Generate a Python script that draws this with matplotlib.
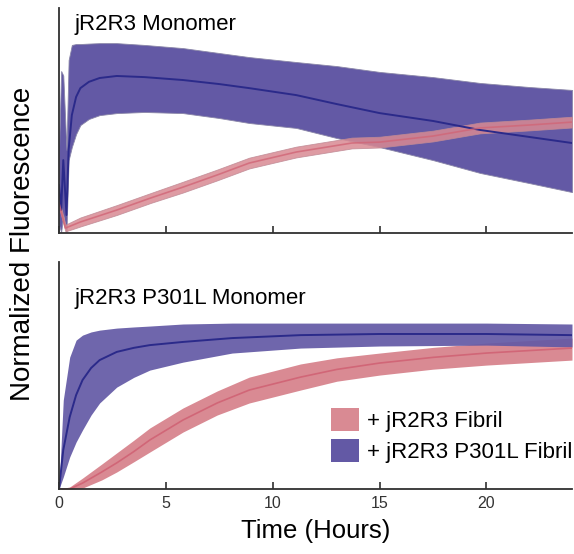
import matplotlib
matplotlib.use("Agg")
import matplotlib.pyplot as plt
from matplotlib.patches import Patch

plt.rcParams['font.family'] = ['Liberation Sans', 'DejaVu Sans']

# ── top panel: jR2R3 Monomer (normalized, 0..1) ──
top_blue_t = [0, 0.1, 0.2, 0.35, 0.45, 0.6, 0.8, 1.0, 1.4, 1.9, 2.7, 4.0, 5.8, 7.5, 8.9, 11.1, 13, 15, 17.5, 19.7, 22, 24]
top_blue_mean = [0.213, 0.102, 0.324, 0.08, 0.369, 0.524, 0.605, 0.644, 0.672, 0.689, 0.698, 0.693, 0.68, 0.662,
                 0.644, 0.613, 0.573, 0.533, 0.498, 0.458, 0.427, 0.40]
top_blue_hi = [0.369, 0.72, 0.70, 0.369, 0.769, 0.836, 0.84, 0.84, 0.842, 0.844, 0.844, 0.836, 0.822, 0.80,
               0.782, 0.76, 0.742, 0.716, 0.693, 0.667, 0.649, 0.636]
top_blue_lo = [0.036, 0.004, 0.08, 0.004, 0.324, 0.382, 0.44, 0.48, 0.507, 0.524, 0.533, 0.538, 0.533, 0.511,
               0.489, 0.467, 0.422, 0.382, 0.324, 0.267, 0.222, 0.182]

top_red_t = [0, 0.3, 1, 2.7, 4.3, 5.8, 7.4, 8.9, 11.1, 13.7, 15, 17.5, 19.7, 22, 24]
top_red_mean = [0.133, 0.022, 0.049, 0.102, 0.156, 0.204, 0.258, 0.311, 0.36, 0.40, 0.404, 0.431, 0.467, 0.48, 0.493]
top_red_hw = [0.02, 0.015, 0.02, 0.022, 0.022, 0.024, 0.024, 0.024, 0.024, 0.024, 0.024, 0.024, 0.024, 0.024, 0.024]

# ── bottom panel: jR2R3 P301L Monomer ──
bot_blue_t = [0, 0.2, 0.5, 0.8, 1.1, 1.5, 1.9, 2.7, 3.5, 4.25, 5.8, 8.1, 11.3, 15, 20, 24]
bot_blue_mean = [0, 0.172, 0.317, 0.414, 0.48, 0.533, 0.568, 0.604, 0.622, 0.634, 0.648, 0.665, 0.678, 0.683, 0.683, 0.678]
bot_blue_hi = [0, 0.392, 0.581, 0.656, 0.678, 0.692, 0.70, 0.709, 0.714, 0.718, 0.727, 0.731, 0.731, 0.731, 0.731, 0.727]
bot_blue_lo = [0, 0.053, 0.141, 0.207, 0.26, 0.326, 0.379, 0.449, 0.492, 0.524, 0.559, 0.599, 0.621, 0.63, 0.634, 0.626]

bot_red_t = [0, 0.5, 1.1, 2.0, 2.7, 3.5, 4.25, 5.8, 7.4, 8.9, 11.3, 13, 15, 17.5, 20, 24]
bot_red_mean = [0, 0.0, 0.026, 0.075, 0.115, 0.165, 0.216, 0.304, 0.379, 0.436, 0.493, 0.527, 0.555, 0.58, 0.599, 0.621]
bot_red_hi = [0, 0.009, 0.048, 0.11, 0.159, 0.215, 0.269, 0.357, 0.432, 0.493, 0.551, 0.578, 0.599, 0.624, 0.643, 0.665]
bot_red_lo = [0, 0.0, 0.004, 0.04, 0.075, 0.12, 0.163, 0.251, 0.326, 0.379, 0.436, 0.475, 0.502, 0.528, 0.546, 0.568]

xticks = [0, 5, 10, 15, 20]
labels = ["+ jR2R3 Fibril", "+ jR2R3 P301L Fibril"]

BLUE_FILL = "#6359a5"
BLUE_LINE = "#2b2a8a"
RED_FILL = "#d98a93"
RED_LINE = "#d16677"
AX_COL = "#303030"

fig = plt.figure(figsize=(5.74, 5.54), dpi=100)
ax1 = fig.add_axes([0.1028, 0.5794, 0.8937, 0.4061])
ax2 = fig.add_axes([0.1028, 0.1173, 0.8937, 0.4097])

# top
ax1.fill_between(top_blue_t, top_blue_lo, top_blue_hi, color=BLUE_FILL, lw=0.6, edgecolor="#8a86a8")
ax1.plot(top_blue_t, top_blue_mean, color=BLUE_LINE, lw=1.4)
r_lo = [m - h for m, h in zip(top_red_mean, top_red_hw)]
r_hi = [m + h for m, h in zip(top_red_mean, top_red_hw)]
ax1.fill_between(top_red_t, r_lo, r_hi, color=RED_FILL, alpha=0.85, lw=0.6, edgecolor="#c08a95")
ax1.plot(top_red_t, top_red_mean, color=RED_LINE, lw=1.2, alpha=0.8)
ax1.text(0.03, 0.975, "jR2R3 Monomer", transform=ax1.transAxes, fontsize=16, va="top", ha="left")

# bottom
ax2.fill_between(bot_red_t, bot_red_lo, bot_red_hi, color=RED_FILL, lw=0)
ax2.plot(bot_red_t, bot_red_mean, color=RED_LINE, lw=1.2)
ax2.fill_between(bot_blue_t, bot_blue_lo, bot_blue_hi, color=BLUE_FILL, alpha=0.92, lw=0)
ax2.plot(bot_blue_t, bot_blue_mean, color=BLUE_LINE, lw=1.4)
ax2.text(0.03, 0.885, "jR2R3 P301L Monomer", transform=ax2.transAxes, fontsize=16, va="top", ha="left")

handles = [Patch(facecolor=RED_FILL, edgecolor="none"), Patch(facecolor=BLUE_FILL, edgecolor="none")]
ax2.legend(handles, labels, loc="lower right", bbox_to_anchor=(1.0, 0.115), frameon=False,
           fontsize=16, handlelength=1.25, handleheight=1.25, handletextpad=0.35,
           labelspacing=0.3, borderaxespad=0.0, borderpad=0.0)

for ax in (ax1, ax2):
    ax.set_xlim(0, 24)
    ax.set_ylim(0, 1)
    ax.spines["top"].set_visible(False)
    ax.spines["right"].set_visible(False)
    for s in ("left", "bottom"):
        ax.spines[s].set_color(AX_COL)
        ax.spines[s].set_linewidth(1.3)
    ax.set_yticks([])
    ax.set_xticks(xticks)
    ax.tick_params(axis="x", direction="in", length=5, width=1.2, color=AX_COL,
                   labelsize=11.5, labelcolor="#333333", pad=5)

ax1.tick_params(axis="x", labelbottom=False)
ax2.set_xlabel("Time (Hours)", fontsize=18.5, labelpad=6)
fig.text(0.04, 0.56, "Normalized Fluorescence", rotation=90, fontsize=20, ha="center", va="center")

fig.savefig("out.png", dpi=100)
